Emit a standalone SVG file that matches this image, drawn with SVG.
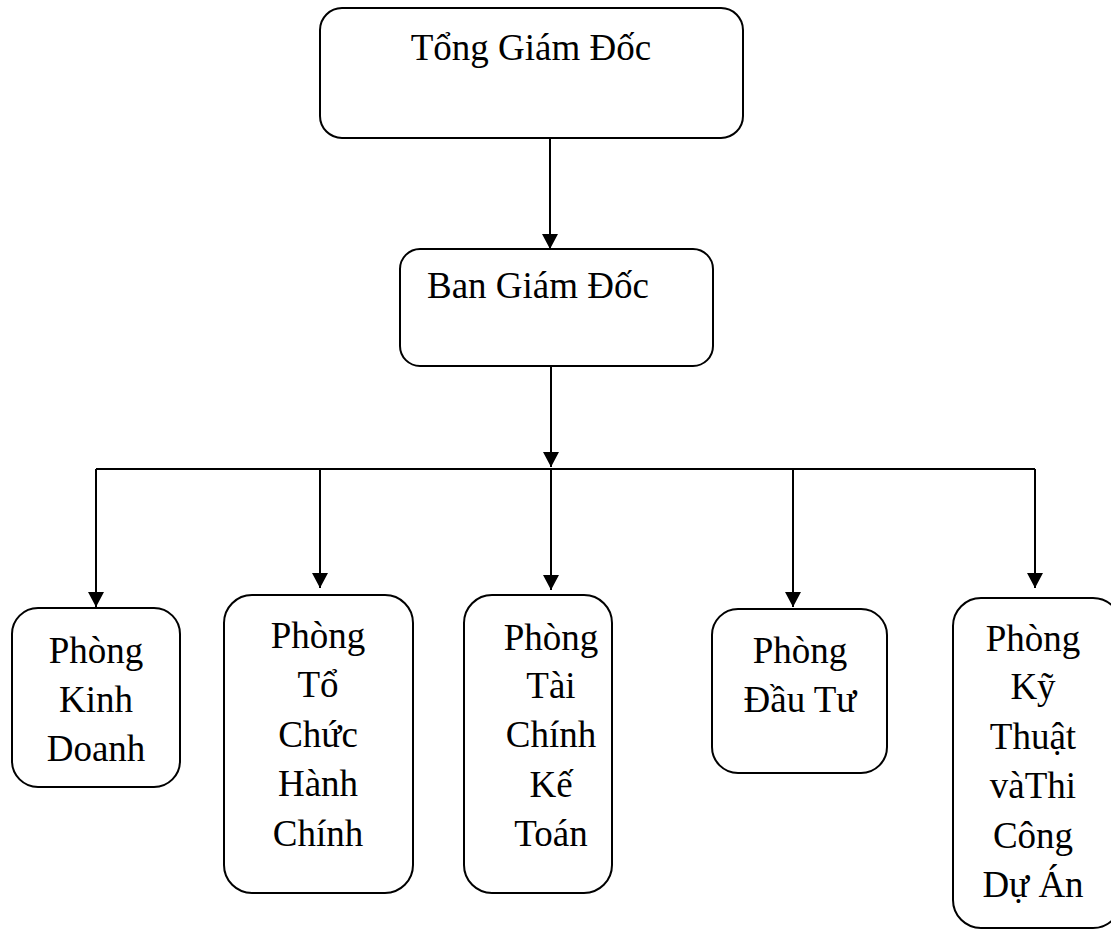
<svg xmlns="http://www.w3.org/2000/svg" width="1111" height="929" viewBox="0 0 1111 929">
  <style>
    .box { fill: #ffffff; stroke: #000000; stroke-width: 2; }
    .lbl { font-family: "Liberation Serif", "Times New Roman", serif; font-size: 37px; fill: #000000; }
    .mid { text-anchor: middle; }
    .wire { fill: none; stroke: #000000; stroke-width: 2; }
  </style>
  <defs>
    <marker id="arrow" viewBox="0 0 16 16" refX="15" refY="8" markerWidth="16" markerHeight="16" markerUnits="userSpaceOnUse" orient="auto">
      <path d="M0,0 L15,8 L0,16 Z" fill="#000000"/>
    </marker>
  </defs>

  <rect width="1111" height="929" fill="#ffffff"/>

  <!-- connectors -->
  <g id="connectors">
    <line class="wire" x1="550" y1="138" x2="550" y2="249" marker-end="url(#arrow)"/>
    <line class="wire" x1="551" y1="366" x2="551" y2="467" marker-end="url(#arrow)"/>
    <line class="wire" x1="96" y1="469" x2="1035" y2="469"/>
    <line class="wire" x1="96" y1="469" x2="96" y2="607" marker-end="url(#arrow)"/>
    <line class="wire" x1="320" y1="469" x2="320" y2="588" marker-end="url(#arrow)"/>
    <line class="wire" x1="551" y1="469" x2="551" y2="590" marker-end="url(#arrow)"/>
    <line class="wire" x1="793" y1="469" x2="793" y2="607" marker-end="url(#arrow)"/>
    <line class="wire" x1="1035" y1="469" x2="1035" y2="588" marker-end="url(#arrow)"/>
  </g>

  <!-- top level -->
  <g id="tong-giam-doc">
    <rect class="box" x="320" y="8" width="423" height="130" rx="22" ry="22"/>
    <text class="lbl mid" x="531" y="60">Tổng Giám Đốc</text>
  </g>

  <g id="ban-giam-doc">
    <rect class="box" x="400" y="249" width="313" height="117" rx="20" ry="20"/>
    <text class="lbl" x="427" y="298">Ban Giám Đốc</text>
  </g>

  <!-- departments -->
  <g id="phong-kinh-doanh">
    <rect class="box" x="12" y="608" width="168" height="179" rx="26" ry="26"/>
    <text class="lbl mid" x="96" y="663">Phòng</text>
    <text class="lbl mid" x="96" y="712">Kinh</text>
    <text class="lbl mid" x="96" y="761">Doanh</text>
  </g>

  <g id="phong-to-chuc-hanh-chinh">
    <rect class="box" x="224" y="595" width="189" height="298" rx="28" ry="28"/>
    <text class="lbl mid" x="318" y="648">Phòng</text>
    <text class="lbl mid" x="318" y="697">Tổ</text>
    <text class="lbl mid" x="318" y="747">Chức</text>
    <text class="lbl mid" x="318" y="796">Hành</text>
    <text class="lbl mid" x="318" y="846">Chính</text>
  </g>

  <g id="phong-tai-chinh-ke-toan">
    <rect class="box" x="464" y="595" width="148" height="298" rx="28" ry="28"/>
    <text class="lbl mid" x="551" y="650">Phòng</text>
    <text class="lbl mid" x="551" y="698">Tài</text>
    <text class="lbl mid" x="551" y="747">Chính</text>
    <text class="lbl mid" x="551" y="797">Kế</text>
    <text class="lbl mid" x="551" y="846">Toán</text>
  </g>

  <g id="phong-dau-tu">
    <rect class="box" x="712" y="609" width="175" height="164" rx="26" ry="26"/>
    <text class="lbl mid" x="800" y="663">Phòng</text>
    <text class="lbl mid" x="800" y="712">Đầu Tư</text>
  </g>

  <g id="phong-ky-thuat-thi-cong">
    <rect class="box" x="953" y="598" width="168" height="330" rx="28" ry="28"/>
    <text class="lbl mid" x="1033" y="651">Phòng</text>
    <text class="lbl mid" x="1033" y="699">Kỹ</text>
    <text class="lbl mid" x="1033" y="749">Thuật</text>
    <text class="lbl mid" x="1033" y="798">vàThi</text>
    <text class="lbl mid" x="1033" y="848">Công</text>
    <text class="lbl mid" x="1033" y="897">Dự Án</text>
  </g>
</svg>
